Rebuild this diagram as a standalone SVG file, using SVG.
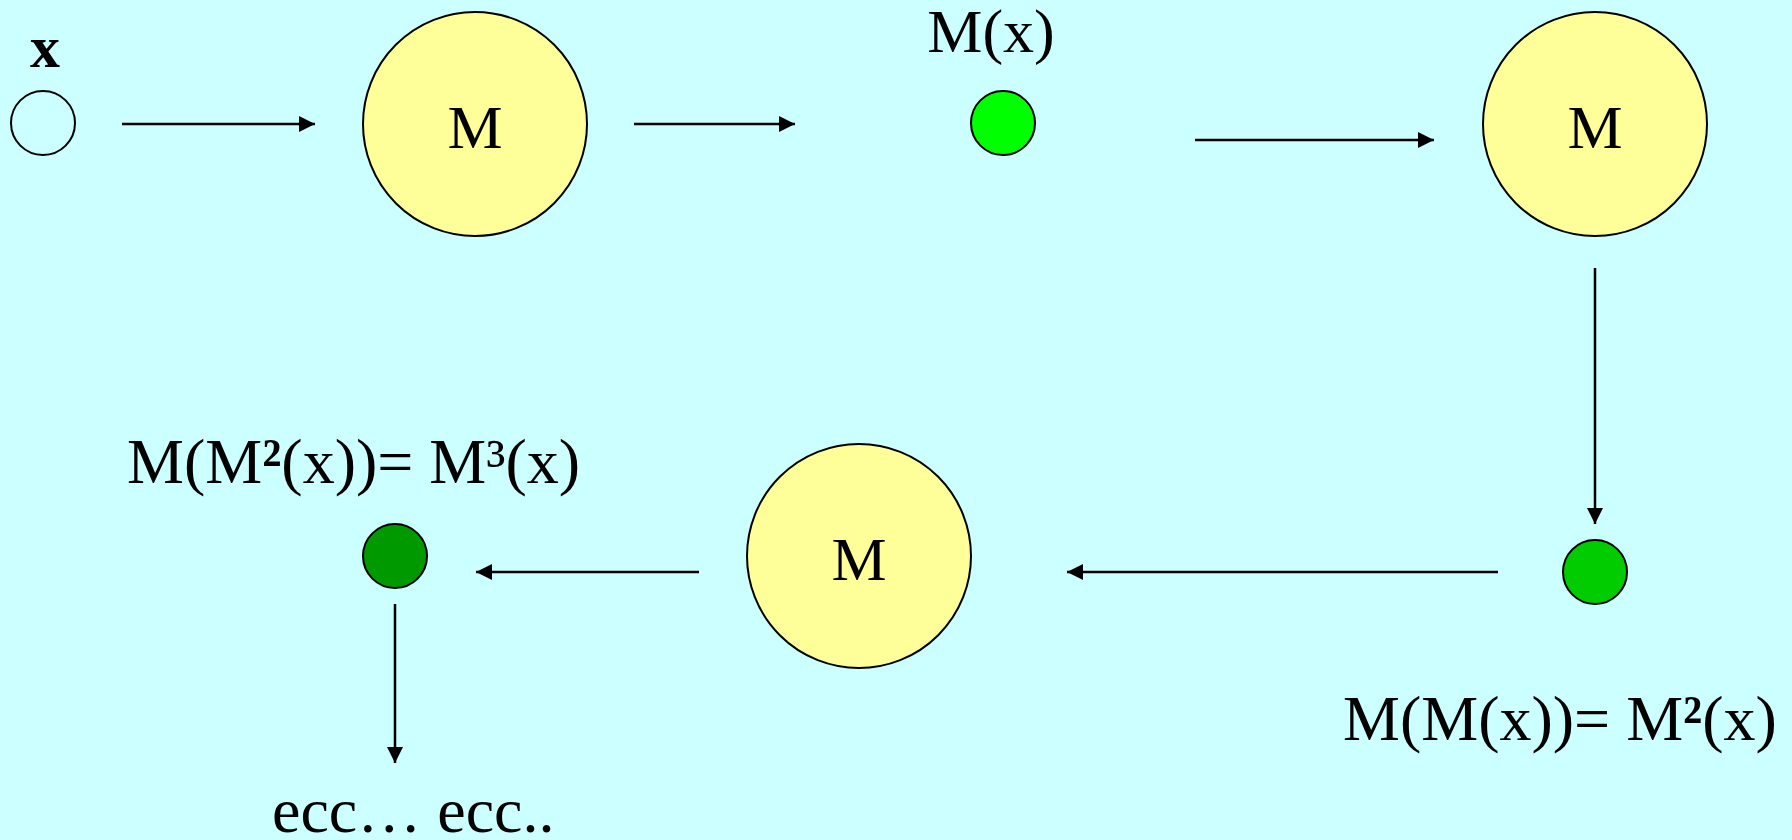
<svg xmlns="http://www.w3.org/2000/svg" width="1792" height="840" viewBox="0 0 1792 840">
<style>
.bg{fill:#ccffff}
.m{fill:#ffff99;stroke:#000;stroke-width:2}
.pt{stroke:#000;stroke-width:2}
.t{font-family:"Liberation Serif","Times New Roman",serif;fill:#000}
.sq{font-weight:bold}
.conn line{stroke:#000;stroke-width:2.5;marker-end:url(#ah)}
</style>
<defs>
<marker id="ah" markerUnits="userSpaceOnUse" markerWidth="16" markerHeight="16" refX="16" refY="8" orient="auto">
<path d="M0,0 L16,8 L0,16 Z" fill="#000"/>
</marker>
</defs>
<rect class="bg" x="0" y="0" width="1792" height="840"/>
<g id="x0">
<circle class="pt" cx="43" cy="123" r="32" fill="#ccffff"/>
<text class="t" x="45" y="67" font-size="60" font-weight="bold" text-anchor="middle">x</text>
</g>
<g id="m1">
<circle class="m" cx="475" cy="124" r="112"/>
<text class="t" x="475" y="148" font-size="62" text-anchor="middle">M</text>
</g>
<g id="x1">
<circle class="pt" cx="1003" cy="123" r="32" fill="#00ff00"/>
<text class="t" x="991" y="52" font-size="62" text-anchor="middle">M(x)</text>
</g>
<g id="m2">
<circle class="m" cx="1595" cy="124" r="112"/>
<text class="t" x="1595" y="148" font-size="62" text-anchor="middle">M</text>
</g>
<g id="x2">
<circle class="pt" cx="1595" cy="572" r="32" fill="#00cc00"/>
<text class="t" x="1343" y="740" font-size="64">M(M(x))= M<tspan class="sq">²</tspan>(x)</text>
</g>
<g id="m3">
<circle class="m" cx="859" cy="556" r="112"/>
<text class="t" x="859" y="580" font-size="62" text-anchor="middle">M</text>
</g>
<g id="x3">
<circle class="pt" cx="395" cy="556" r="32" fill="#009900"/>
<text class="t" x="127" y="483" font-size="64">M(M<tspan class="sq">²</tspan>(x))= M³(x)</text>
</g>
<g id="etc">
<text class="t" x="272" y="832" font-size="64">ecc… ecc..</text>
</g>
<g id="connectors" class="conn">
<line x1="122" y1="124" x2="315" y2="124"/>
<line x1="634" y1="124" x2="795" y2="124"/>
<line x1="1195" y1="140" x2="1434" y2="140"/>
<line x1="1595" y1="268" x2="1595" y2="524"/>
<line x1="1498" y1="572" x2="1067" y2="572"/>
<line x1="699" y1="572" x2="476" y2="572"/>
<line x1="395" y1="604" x2="395" y2="763"/>
</g>
</svg>
